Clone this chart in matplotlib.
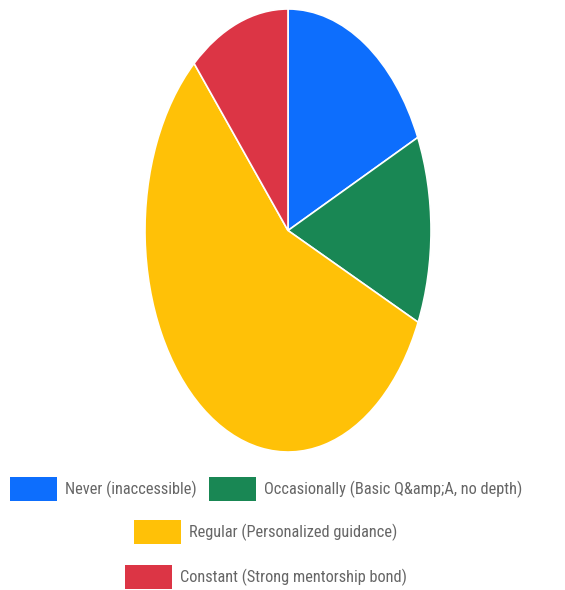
import matplotlib
matplotlib.use("Agg")
import math
import matplotlib.pyplot as plt
from matplotlib.patches import Patch
from matplotlib import font_manager

labels = ["Never (inaccessible)", "Occasionally (Basic Q&amp;A, no depth)",
          "Regular (Personalized guidance)", "Constant (Strong mentorship bond)"]
values = [18.1, 13.7, 56.8, 11.4]
colors = ["#0d6efd", "#198754", "#ffc107", "#dc3545"]

# label widths in the reference, px (used to choose font and size)
target_w = [145, 256, 208, 222]

W, H = 565, 590
fig = plt.figure(figsize=(W / 100, H / 100), dpi=100)
r = fig.canvas.get_renderer()

names = {f.name for f in font_manager.fontManager.ttflist}
cands = ["Liberation Sans Narrow", "Arimo Narrow", "Roboto Condensed",
         "PT Sans Narrow", "Archivo Narrow", "Asap Condensed", "Barlow Semi Condensed",
         "Liberation Sans"]
cands = [c for c in cands if c in names] or ["DejaVu Sans"]


def widths(family):
    out = []
    for s in labels:
        t = fig.text(0, 0, s, fontsize=14, family=[family, "DejaVu Sans"])
        out.append(t.get_window_extent(renderer=r).width)
        t.remove()
    return out


best = None
for c in cands:
    ws = widths(c)
    logs = [math.log(tw / w) for tw, w in zip(target_w, ws)]
    m = sum(logs) / len(logs)
    err = sum((l - m) ** 2 for l in logs)
    if best is None or err < best[0]:
        best = (err, c, 14 * sum(target_w) / sum(ws))
_, fam, fs = best
plt.rcParams["font.family"] = [fam, "DejaVu Sans"]

ax = fig.add_axes([145 / W, 1 - 452 / H, 286 / W, 443 / H])
ax.pie(values, colors=colors, startangle=90, counterclock=False, radius=1,
       wedgeprops=dict(edgecolor="white", linewidth=1.2))
ax.set_aspect("auto")
ax.set_xlim(-1, 1)
ax.set_ylim(-1, 1)
ax.axis("off")

px = fs * 100 / 72.0
handles = [Patch(facecolor=c, edgecolor="none") for c in colors]
rows = [([0, 1], 489), ([2], 532), ([3], 577)]
for idx, yc in rows:
    fig.legend([handles[i] for i in idx], [labels[i] for i in idx],
               loc="center", bbox_to_anchor=(266 / W, 1 - yc / H),
               ncol=len(idx), frameon=False, fontsize=fs,
               handlelength=47 / px, handleheight=1.4 * 21 / px, handletextpad=8 / px,
               columnspacing=13 / px, borderpad=0, borderaxespad=0,
               labelcolor="#666666")

fig.savefig("out.png", dpi=100)
